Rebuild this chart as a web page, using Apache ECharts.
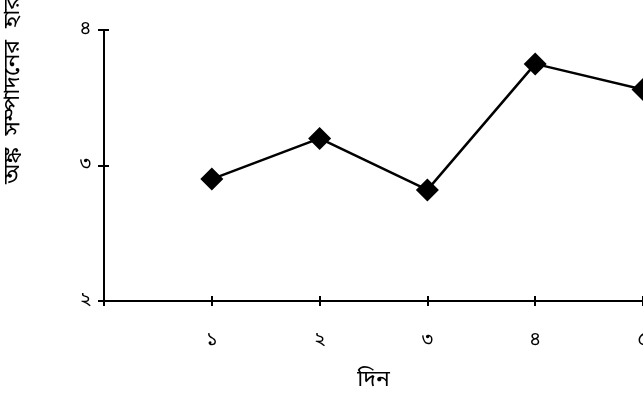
<!DOCTYPE html>
<html><head><meta charset="utf-8">
<script src="https://cdn.jsdelivr.net/npm/echarts@6/dist/echarts.min.js"></script>
<style>html,body{margin:0;padding:0;background:#fff}#c{width:643px;height:396px}</style>
</head><body><div id="c"></div>
<script>
const categories = ['১', '২', '৩', '৪', '৫'];
const values = [2.90, 3.20, 2.82, 3.75, 3.56];
const yTickLabels = {2: '২', 3: '৩', 4: '৪'};
const xName = 'দিন';
const yName = 'অঙ্ক  সম্পাদনের  হার';

const FONT = '"Noto Sans Bengali","Noto Sans","Noto Sans CJK SC",sans-serif';
const chart = echarts.init(document.getElementById('c'));
const pts = values.map((v, i) => [i + 1, v]);
const baseX = {
  type: 'value', min: 0, max: 5, interval: 1,
  splitLine: {show: false}
};
chart.setOption({
  animation: false,
  grid: {left: 104, width: 539, top: 30, height: 271, containLabel: false, outerBoundsMode: 'none'},
  xAxis: [
    Object.assign({}, baseX, {
      axisLine: {show: true, lineStyle: {color: '#000', width: 2}},
      axisTick: {show: true, length: 5, lineStyle: {color: '#000', width: 2}},
      axisLabel: {margin: 31, color: '#000', fontSize: 19, fontFamily: FONT,
        formatter: v => (v >= 1 ? categories[v - 1] : '')},
      name: xName, nameLocation: 'middle', nameGap: 69,
      nameTextStyle: {color: '#000', fontSize: 23, fontFamily: FONT}
    }),
    Object.assign({}, baseX, {
      position: 'bottom',
      axisLine: {show: false},
      axisTick: {show: true, inside: true, length: 5, lineStyle: {color: '#000', width: 2}},
      axisLabel: {show: false}
    })
  ],
  yAxis: [
    {
      type: 'value', min: 2, max: 4, interval: 1,
      splitLine: {show: false},
      axisLine: {show: true, lineStyle: {color: '#000', width: 2}},
      axisTick: {show: true, length: 6, lineStyle: {color: '#000', width: 2}},
      axisLabel: {margin: 13, color: '#000', fontSize: 19, fontFamily: FONT,
        formatter: v => yTickLabels[v] || ''}
    },
    {
      type: 'value', min: 2, max: 4, interval: 1, position: 'left',
      splitLine: {show: false},
      axisLine: {show: false},
      axisTick: {show: true, inside: true, length: 5, lineStyle: {color: '#000', width: 2}},
      axisLabel: {show: false}
    }
  ],
  graphic: [{
    type: 'text', left: 3, top: -4,
    rotation: Math.PI / 2,
    style: {text: yName, fill: '#000', fontSize: 23, fontFamily: FONT}
  }],
  series: [{
    type: 'line', data: pts,
    symbol: 'diamond', symbolSize: 23,
    lineStyle: {color: '#000', width: 2.5},
    itemStyle: {color: '#000'}
  }]
});
</script></body></html>
